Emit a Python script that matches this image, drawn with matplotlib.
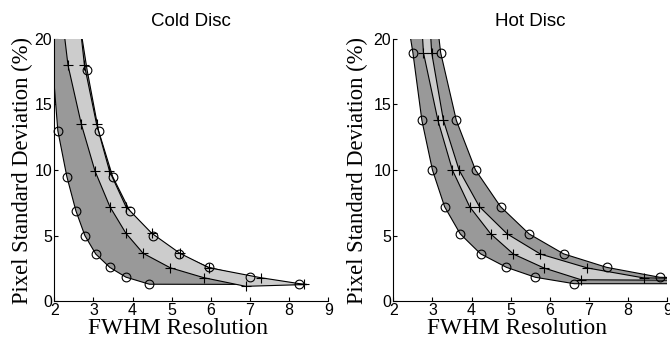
import matplotlib
matplotlib.use("Agg")
import matplotlib.pyplot as plt

# ---------------- data ----------------
x_ticks = [2, 3, 4, 5, 6, 7, 8, 9]
y_ticks = [0, 5, 10, 15, 20]
titles = ["Cold Disc", "Hot Disc"]

# Cold disc: marker positions
cold_lo_o_x = [2.09, 2.32, 2.55, 2.78, 3.06, 3.42, 3.83, 4.43]
cold_lo_o_y = [13.0, 9.5, 6.9, 5.0, 3.58, 2.56, 1.82, 1.28]
cold_lo_p_x = [2.35, 2.69, 3.04, 3.42, 3.83, 4.27, 4.96, 5.82, 6.89]
cold_lo_p_y = [18.0, 13.5, 9.92, 7.2, 5.17, 3.64, 2.54, 1.78, 1.12]
cold_hi_p_x = [2.77, 3.08, 3.41, 3.83, 4.49, 5.21, 5.95, 7.27, 8.38]
cold_hi_p_y = [18.0, 13.5, 9.92, 7.2, 5.17, 3.64, 2.54, 1.78, 1.27]
cold_hi_o_x = [2.84, 3.13, 3.49, 3.93, 4.51, 5.19, 5.94, 7.0, 8.25]
cold_hi_o_y = [17.6, 13.0, 9.5, 6.87, 5.0, 3.57, 2.57, 1.81, 1.28]
# Cold disc: curve ends beyond the markers (top above the axes, bottom tail)
cold_lo_o_top = [(1.90, 21.0), (2.0, 16.4)]
cold_lo_p_top = [(2.23, 21.0)]
cold_hi_p_top = [(2.66, 21.0)]
cold_hi_p_end = [(8.45, 1.26)]
cold_hi_o_top = [(2.66, 21.0)]
cold_hi_o_end = [(8.45, 1.26)]

# Hot disc: marker positions
hot_lo_o_x = [2.50, 2.73, 3.00, 3.31, 3.71, 4.23, 4.89, 5.63, 6.62]
hot_lo_o_y = [18.96, 13.79, 10.0, 7.2, 5.12, 3.6, 2.57, 1.81, 1.32]
hot_lo_p_x = [2.77, 3.14, 3.51, 3.95, 4.49, 5.07, 5.85, 6.80]
hot_lo_p_y = [18.96, 13.79, 10.0, 7.2, 5.12, 3.58, 2.52, 1.62]
hot_hi_p_x = [2.98, 3.28, 3.68, 4.20, 4.91, 5.76, 6.96, 8.40]
hot_hi_p_y = [18.96, 13.79, 10.0, 7.2, 5.12, 3.58, 2.52, 1.76]
hot_hi_o_x = [3.21, 3.61, 4.10, 4.74, 5.47, 6.35, 7.45, 8.81]
hot_hi_o_y = [18.96, 13.79, 10.0, 7.2, 5.12, 3.6, 2.57, 1.81]
hot_lo_o_top = [(2.39, 21.0)]
hot_lo_o_end = [(9.7, 1.32)]
hot_lo_p_top = [(2.73, 21.0)]
hot_lo_p_end = [(9.7, 1.58)]
hot_hi_p_top = [(2.94, 21.0)]
hot_hi_p_end = [(9.7, 1.71)]
hot_hi_o_top = [(3.13, 21.0)]
hot_hi_o_end = [(9.7, 1.76)]

DARK = "#999999"
LIGHT = "#cccccc"


def curve(top, xs, ys, end=()):
    pts = list(top) + list(zip(xs, ys)) + list(end)
    return [p[0] for p in pts], [p[1] for p in pts]


def band(ax, lo, hi, color):
    xs = lo[0] + hi[0][::-1]
    ys = lo[1] + hi[1][::-1]
    ax.fill(xs, ys, facecolor=color, edgecolor="black", linewidth=0.8,
            joinstyle="round", zorder=2)


panels = [
    dict(
        dark=(curve(cold_lo_o_top, cold_lo_o_x, cold_lo_o_y),
              curve(cold_hi_o_top, cold_hi_o_x, cold_hi_o_y, cold_hi_o_end)),
        light=(curve(cold_lo_p_top, cold_lo_p_x, cold_lo_p_y),
               curve(cold_hi_p_top, cold_hi_p_x, cold_hi_p_y, cold_hi_p_end)),
        circles=[(cold_lo_o_x, cold_lo_o_y), (cold_hi_o_x, cold_hi_o_y)],
        pluses=[(cold_lo_p_x, cold_lo_p_y), (cold_hi_p_x, cold_hi_p_y)],
    ),
    dict(
        dark=(curve(hot_lo_o_top, hot_lo_o_x, hot_lo_o_y, hot_lo_o_end),
              curve(hot_hi_o_top, hot_hi_o_x, hot_hi_o_y, hot_hi_o_end)),
        light=(curve(hot_lo_p_top, hot_lo_p_x, hot_lo_p_y, hot_lo_p_end),
               curve(hot_hi_p_top, hot_hi_p_x, hot_hi_p_y, hot_hi_p_end)),
        circles=[(hot_lo_o_x, hot_lo_o_y), (hot_hi_o_x, hot_hi_o_y)],
        pluses=[(hot_lo_p_x, hot_lo_p_y), (hot_hi_p_x, hot_hi_p_y)],
    ),
]

fig = plt.figure(figsize=(6.7, 3.49), dpi=100)
W, H = 670.0, 349.0
axes_px = [(54.3, 393.3)]
lefts = [54.3, 393.3]
ylabel_x = [-0.078, -0.092]

for i, p in enumerate(panels):
    ax = fig.add_axes([lefts[i] / W, (H - 301) / H, 274 / W, 262 / H])
    band(ax, p["dark"][0], p["dark"][1], DARK)
    band(ax, p["light"][0], p["light"][1], LIGHT)
    for xs, ys in p["circles"]:
        ax.plot(xs, ys, linestyle="none", marker="o", markersize=6.3,
                markerfacecolor="none", markeredgecolor="black",
                markeredgewidth=0.8, zorder=3, clip_on=False)
    for xs, ys in p["pluses"]:
        ax.plot(xs, ys, linestyle="none", marker="+", markersize=7.5,
                color="black", markeredgewidth=0.8, zorder=3, clip_on=False)

    ax.set_xlim(2, 9)
    ax.set_ylim(0, 20)
    ax.set_xticks(x_ticks)
    ax.set_yticks(y_ticks)
    ax.set_xticklabels([str(v) for v in x_ticks], family="Liberation Sans",
                       fontsize=11.5)
    ax.set_yticklabels([str(v) for v in y_ticks], family="Liberation Sans",
                       fontsize=11.5)
    ax.tick_params(direction="in", length=3, width=0.8, pad=1.5)
    for s in ("top", "right"):
        ax.spines[s].set_visible(False)
    for s in ("left", "bottom"):
        ax.spines[s].set_linewidth(0.8)
    ax.set_facecolor("white")

    ax.set_title(titles[i], family="Liberation Sans", fontsize=13.5, pad=9)
    ax.set_xlabel("FWHM Resolution", family="Liberation Serif", fontsize=16.8)
    ax.xaxis.set_label_coords(0.452, -0.065)
    ax.set_ylabel("Pixel Standard Deviation (%)", family="Liberation Serif",
                  fontsize=16.3)
    ax.yaxis.set_label_coords(ylabel_x[i], 0.5)

fig.savefig("out.png", dpi=100)
